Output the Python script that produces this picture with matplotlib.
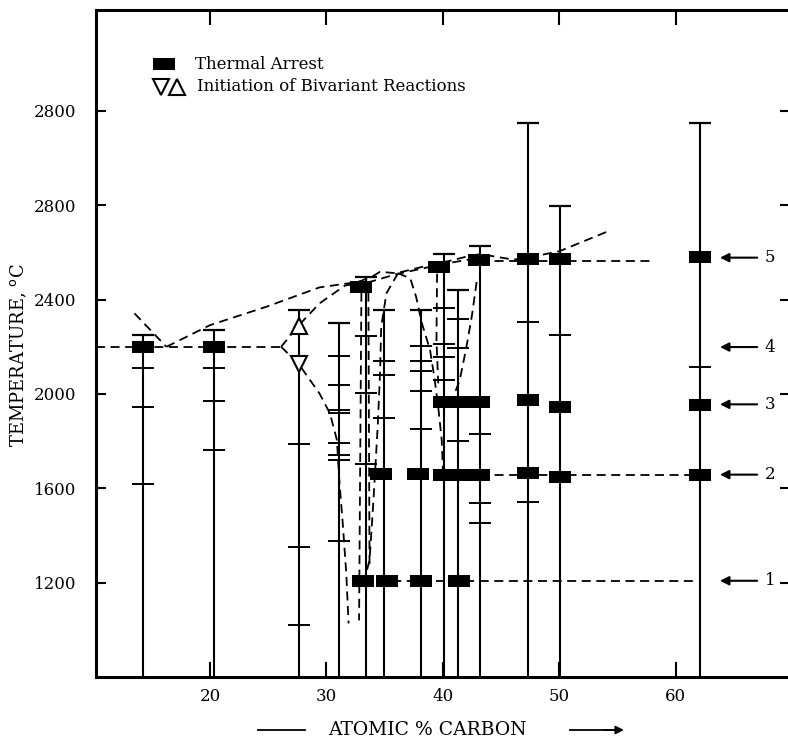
import numpy as np
import matplotlib
matplotlib.use('Agg')
import matplotlib.pyplot as plt
from matplotlib.lines import Line2D

plt.rcParams['font.family'] = ['DejaVu Serif', 'DejaVu Sans']
plt.rcParams['lines.scale_dashes'] = False

## data (atomic % carbon, deg C)
bar_x   = [14.2, 20.3, 27.6, 31.1, 33.4, 34.9, 38.1, 40.1, 41.3, 43.2, 47.3, 50.1, 62.1]
bar_top = [2248, 2273, 2358, 2302, 2498, 2354, 2358, 2594, 2439, 2627, 3149, 2796, 3149]
bar_ticks = [
    [2110, 1944, 1617],
    [2110, 1972, 1761],
    [1789, 1351, 1019],
    [2161, 2039, 1934, 1920, 1793, 1742, 1722, 1377],
    [2245, 2005, 1704],
    [2139, 2081, 1899],
    [2203, 2139, 2097, 2011, 1850],
    [2365, 2213, 2156, 2061],
    [2319, 2196, 1800],
    [1831, 1539, 1454],
    [2307, 1544],
    [2251],
    [2115],
]

# thermal arrests
arrest_x = [14.2, 20.3,
            33.0, 39.7, 43.1, 47.3, 50.1, 62.1,
            40.1, 41.6, 43.1, 47.3, 50.1, 62.1,
            34.7, 37.9, 40.1, 41.6, 43.1, 47.3, 50.1, 62.1,
            33.1, 35.2, 38.1, 41.4]
arrest_t = [2199, 2199,
            2453, 2538, 2570, 2573, 2573, 2581,
            1965, 1965, 1965, 1973, 1944, 1954,
            1662, 1662, 1658, 1658, 1658, 1665, 1650, 1658,
            1208, 1208, 1208, 1208]

# initiation of bivariant reactions
tri_up_x, tri_up_t = [27.6], [2290]
tri_dn_x, tri_dn_t = [27.6], [2128]

# numbered invariant levels (right side)
level_t = [1208, 1658, 1956, 2199, 2578]
level_names = ['1', '2', '3', '4', '5']

# dashed curves
eut_x, eut_t = [10.2, 26.1], [2200, 2200]
left_x, left_t = [13.5, 16.25], [2342, 2200]
liq_x = [16.25, 20.0, 24.85, 29.4, 32.0, 33.0, 34.0, 34.6, 36.0, 38.9, 40.9, 42.0, 43.2, 46.0, 47.3, 48.5, 50.0, 54.2]
liq_t = [2200, 2292, 2370, 2452, 2470, 2480, 2500, 2518, 2512, 2547, 2568, 2582, 2593, 2570, 2575, 2590, 2605, 2690]
liq2_x = [33.5, 36.0, 39.0, 40.6, 43.2]
liq2_t = [2472, 2508, 2540, 2556, 2578]
up_x = [26.1, 27.6, 29.4, 31.6, 33.0]
up_t = [2200, 2290, 2384, 2460, 2470]
dn_x = [26.1, 27.6, 29.4, 30.3, 30.9, 31.1, 31.4, 31.7, 31.9]
dn_t = [2200, 2128, 2002, 1917, 1804, 1635, 1450, 1239, 1027]
va_x, va_t = [33.0, 32.8], [2430, 1040]
vb_x, vb_t = [33.6, 33.7], [2430, 1260]
cb_x = [36.15, 35.15, 34.7, 34.6, 34.4, 34.0, 33.7, 33.4]
cb_t = [2512, 2427, 2285, 2087, 1861, 1521, 1295, 1239]
cc_x = [36.15, 37.2, 37.7, 38.2, 38.9, 39.3, 39.6, 39.9, 40.0]
cc_t = [2512, 2490, 2412, 2299, 2186, 2059, 1945, 1804, 1677]
cd_x, cd_t = [39.5, 39.45, 39.6], [2510, 2229, 2045]
ce_x = [42.9, 42.5, 42.0, 41.45, 40.9]
ce_t = [2475, 2334, 2193, 2059, 1988]
lvl5_x, lvl5_t = [43.2, 58.2], [2565, 2565]
lvl2_x, lvl2_t = [43.2, 62.1], [1658, 1658]
lvl1_x, lvl1_t = [33.1, 61.9], [1208, 1208]

y_ticks = [1200, 1600, 2000, 2400, 2800, 3200]
y_ticklabels = ['1200', '1600', '2000', '2400', '2800', '2800']
x_ticks = [20, 30, 40, 50, 60]

## plot
fig = plt.figure(figsize=(7.88, 7.39), dpi=100)
ax = fig.add_axes([96/788, 62/739, 694/788, 667/739])
ax.set_xlim(10.2, 69.82)
ax.set_ylim(800, 3628)

dash = (0, (6.5, 4))
for cx, ct in [(eut_x, eut_t), (left_x, left_t), (liq_x, liq_t), (liq2_x, liq2_t),
               (up_x, up_t), (dn_x, dn_t), (va_x, va_t), (vb_x, vb_t),
               (cb_x, cb_t), (cc_x, cc_t), (cd_x, cd_t), (ce_x, ce_t),
               (lvl5_x, lvl5_t), (lvl2_x, lvl2_t), (lvl1_x, lvl1_t)]:
    ax.plot(cx, ct, color='k', lw=1.3, linestyle=dash, zorder=2)

# vertical bars with caps and short marks
ax.vlines(bar_x, 800, bar_top, color='k', lw=1.5, zorder=3)
ax.plot(bar_x, bar_top, linestyle='none', marker='_', ms=16, mew=1.6, color='k', zorder=3)
for bx, tks in zip(bar_x, bar_ticks):
    ax.plot([bx] * len(tks), tks, linestyle='none', marker='_', ms=16, mew=1.4, color='k', zorder=3)

box = [(-1, -0.54), (1, -0.54), (1, 0.54), (-1, 0.54), (-1, -0.54)]
ax.plot(arrest_x, arrest_t, linestyle='none', marker=box, ms=16.5, color='k', mew=0, zorder=4)
ax.plot(tri_up_x, tri_up_t, linestyle='none', marker='^', ms=12, mfc='white', mec='k', mew=1.5, zorder=5)
ax.plot(tri_dn_x, tri_dn_t, linestyle='none', marker='v', ms=12, mfc='white', mec='k', mew=1.5, zorder=5)

# numbered arrows
for t, name in zip(level_t, level_names):
    ax.annotate('', xy=(63.8, t), xytext=(67.0, t),
                arrowprops=dict(arrowstyle='-|>', lw=1.5, color='k', mutation_scale=13,
                                shrinkA=0, shrinkB=0))
    ax.text(68.1, t, name, ha='center', va='center', fontsize=12)

# legend
ax.plot([0.098], [0.919], marker=box, ms=16.5, color='k', mew=0, transform=ax.transAxes, clip_on=False)
ax.text(0.142, 0.918, 'Thermal Arrest', transform=ax.transAxes, fontsize=12, va='center')
ax.plot([0.093], [0.885], marker='v', ms=11, mfc='white', mec='k', mew=1.5, transform=ax.transAxes)
ax.plot([0.117], [0.885], marker='^', ms=11, mfc='white', mec='k', mew=1.5, transform=ax.transAxes)
ax.text(0.145, 0.885, 'Initiation of Bivariant Reactions', transform=ax.transAxes, fontsize=12, va='center')

# axes styling
ax.set_yticks(y_ticks)
ax.set_yticklabels(y_ticklabels)
ax.set_xticks(x_ticks)
ax.tick_params(axis='both', direction='in', top=True, right=True, labelsize=12, width=1.5, colors='k')
ax.tick_params(axis='y', length=7, pad=14)
ax.tick_params(axis='x', length=11, pad=8)
for s in ax.spines.values():
    s.set_linewidth(2.2)

fig.text(19/788, 1 - 355/739, 'TEMPERATURE, $^{\\rm o}$C', rotation=90,
         ha='center', va='center', fontsize=13)

fig.text(427/788, 1 - 730/739, 'ATOMIC % CARBON', ha='center', va='center', fontsize=13.5)
fig.add_artist(Line2D([258/788, 305/788], [1 - 730/739] * 2, color='k', lw=1.3))
fig.add_artist(Line2D([570/788, 612/788], [1 - 730/739] * 2, color='k', lw=1.3))
ax.annotate('', xy=(624/788, 1 - 730/739), xytext=(604/788, 1 - 730/739), xycoords='figure fraction',
            arrowprops=dict(arrowstyle='-|>', lw=1.3, color='k', mutation_scale=12, shrinkA=0, shrinkB=0))

fig.savefig('out.png', dpi=100)
